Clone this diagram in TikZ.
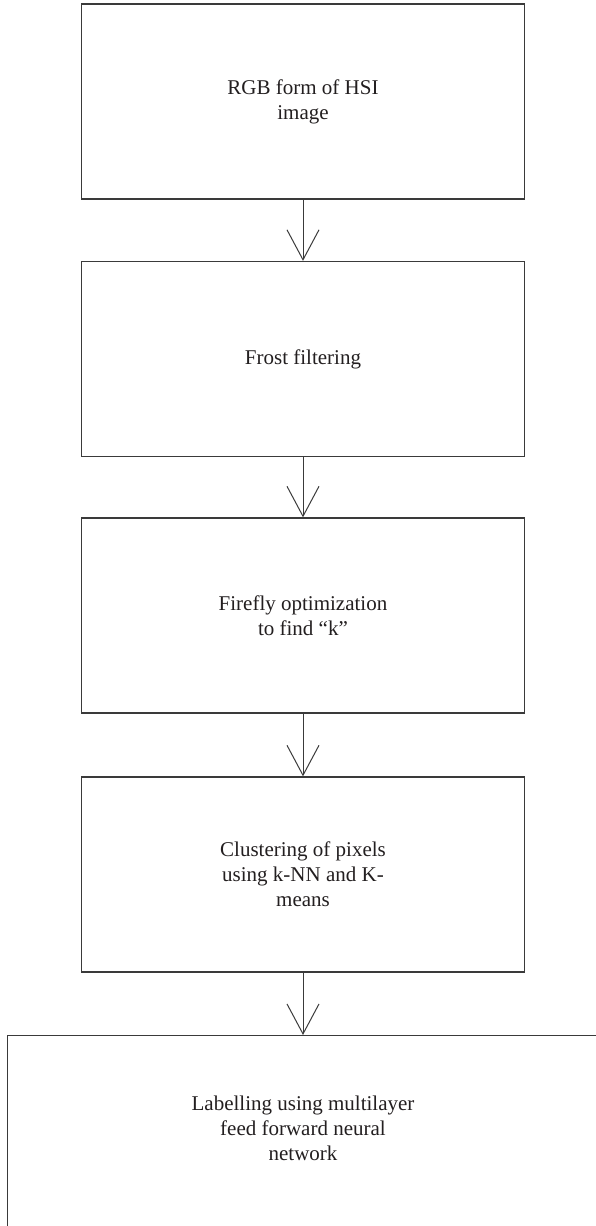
\documentclass[tikz,border=0pt]{standalone}
\usepackage{fontspec}
\setmainfont{Liberation Serif}
\usetikzlibrary{arrows.meta}
\definecolor{linegray}{HTML}{3A3A3A}
\definecolor{textgray}{HTML}{231F20}
\tikzset{block/.style = {draw=linegray, fill=white, line width=1.3pt, rectangle, minimum height=195pt, minimum width=443.5pt, align=center, text=textgray, font=\fontsize{21}{25}\selectfont}}
\tikzset{flow/.style = {-{Straight Barb[length=30pt, width=32pt]}, draw=linegray, line width=1pt}}

\begin{document}
\begin{tikzpicture}[x=1pt, y=-1pt]
    \useasboundingbox (0,0) rectangle (595,1226);
    \node[block](rgb)at(303,101.5){RGB form of HSI\\image};
    \node[block](frost)at(303,359){Frost filtering};
    \node[block](firefly)at(303,615.5){Firefly optimization\\to find “k”};
    \node[block](cluster)at(303,874.5){Clustering of pixels\\using k-NN and K-\\means};
    \node[block, anchor=north, minimum width=591.5pt, minimum height=230pt, text depth=45pt](labelling)at(303,1035){Labelling using multilayer\\feed forward neural\\network};
    \draw[flow](rgb)--(frost);
    \draw[flow](frost)--(firefly);
    \draw[flow](firefly)--(cluster);
    \draw[flow](cluster)--(labelling);
\end{tikzpicture}
\end{document}
